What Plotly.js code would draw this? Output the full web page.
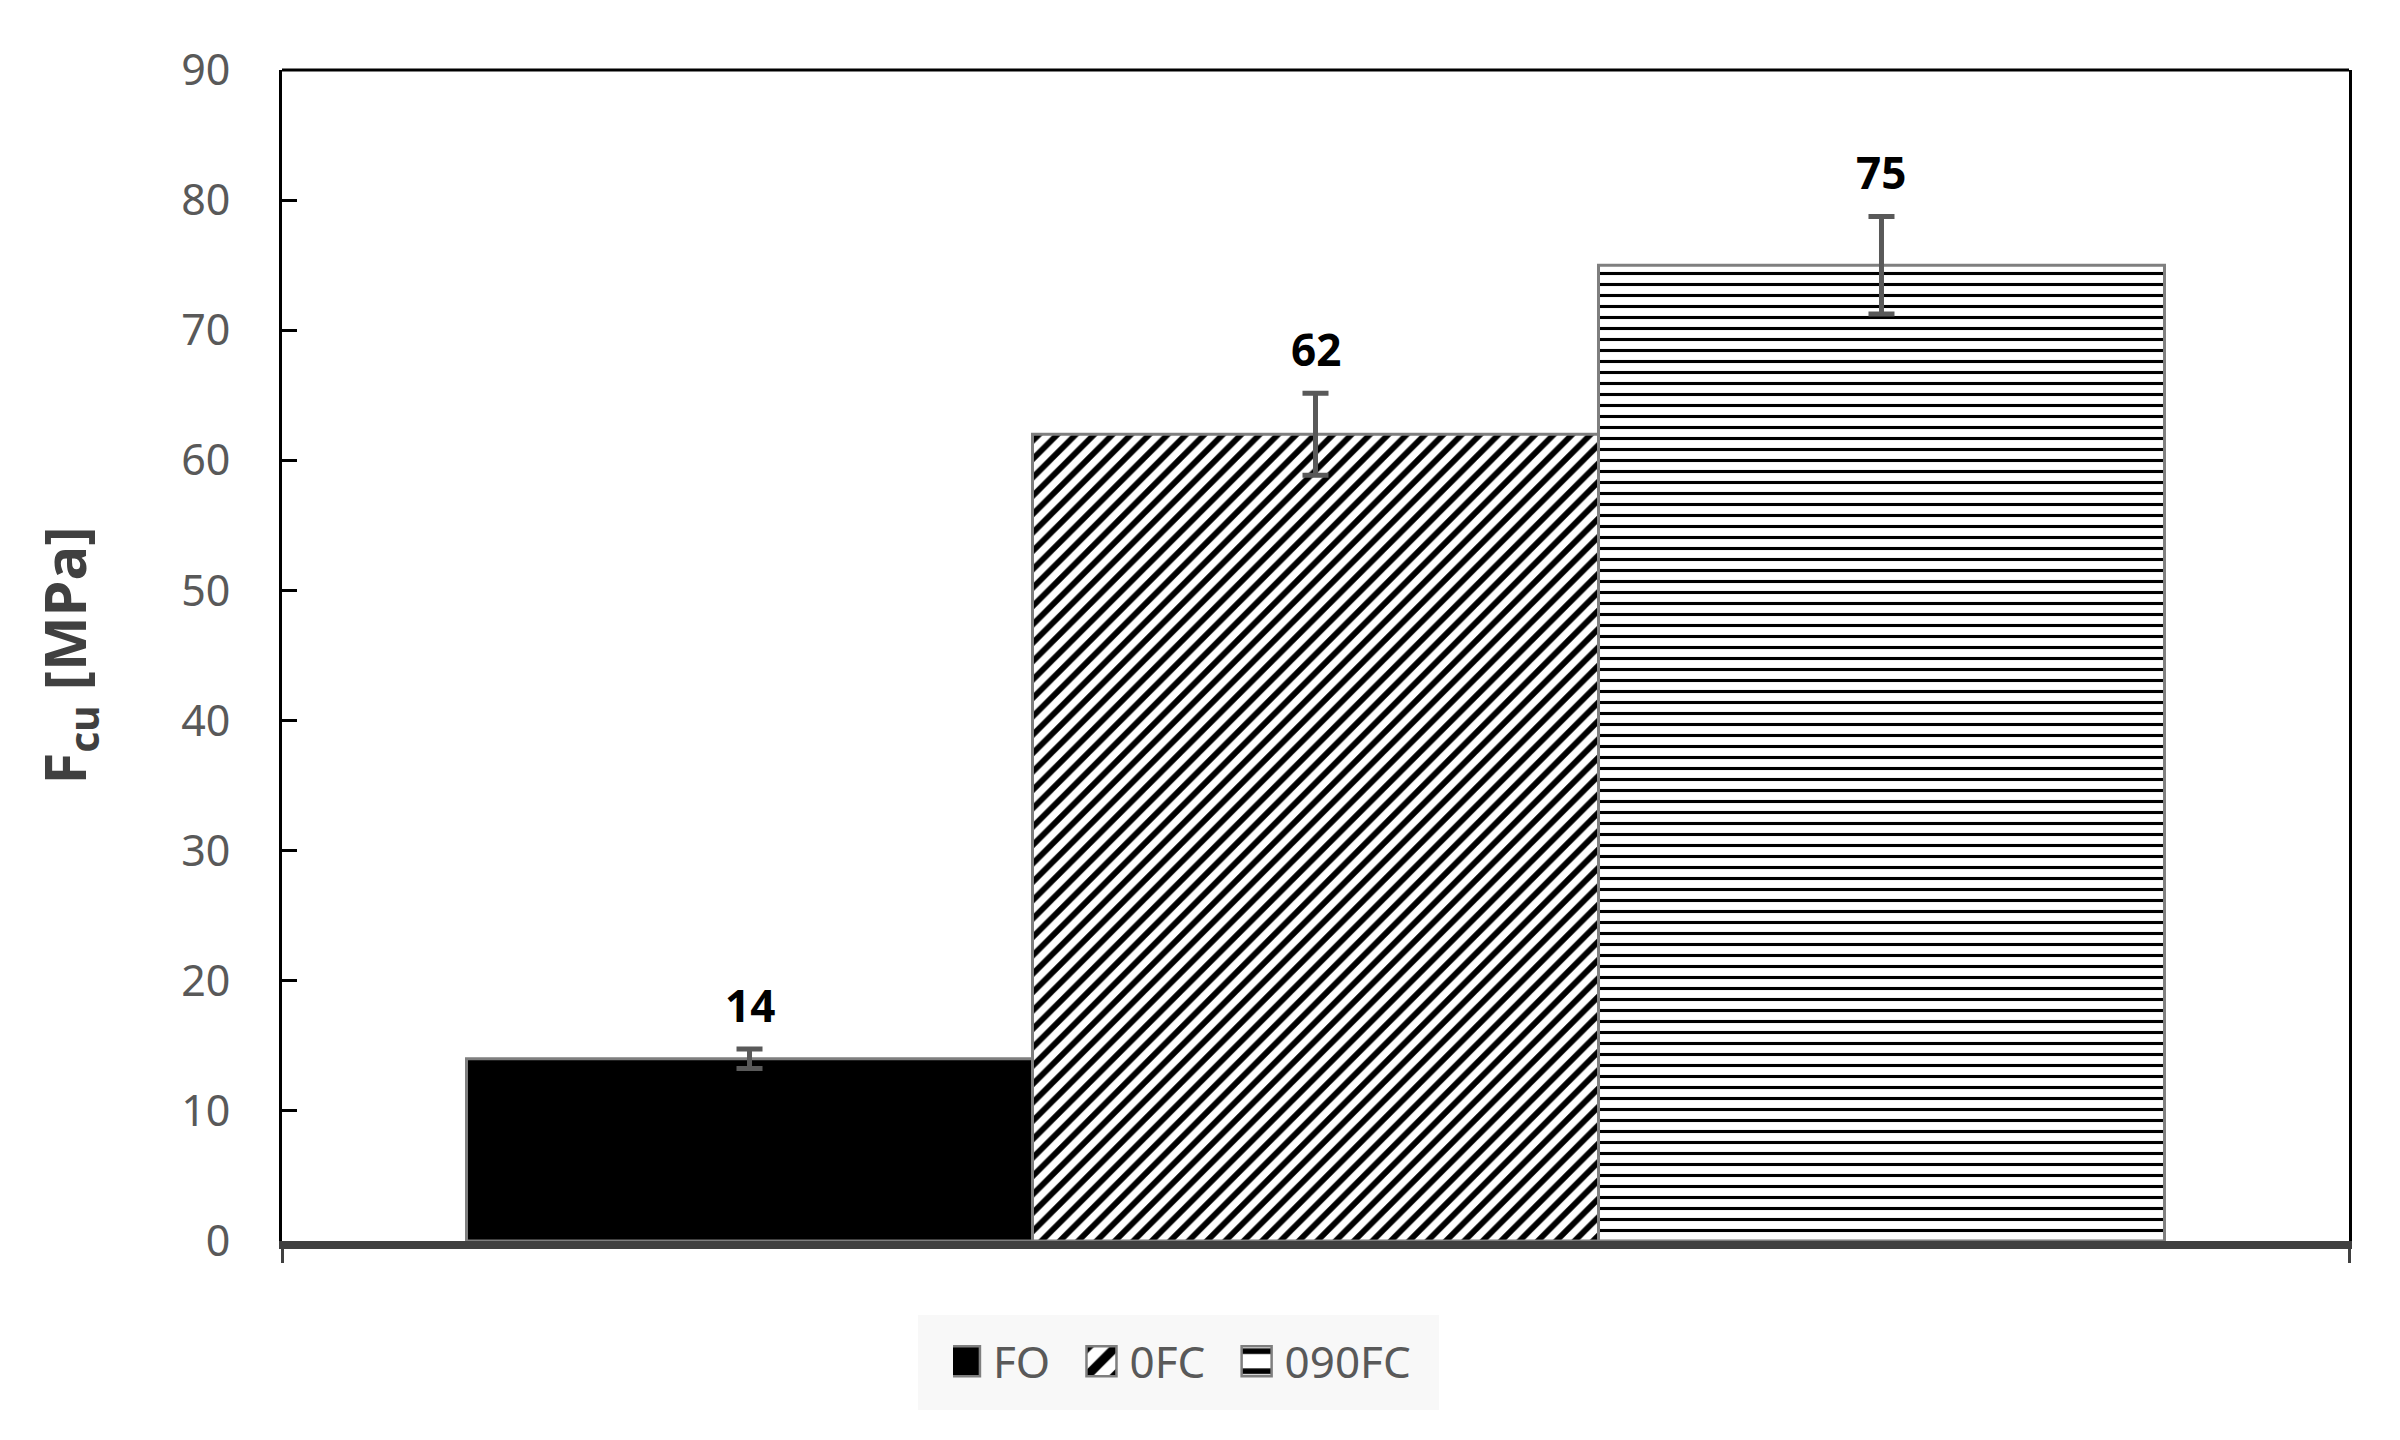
<!DOCTYPE html>
<html>
<head>
<meta charset="utf-8">
<script src="https://cdn.plot.ly/plotly-3.0.1.min.js"></script>
<style>
  html, body { margin: 0; padding: 0; background: #fff; }
  #myDiv { width: 2400px; height: 1440px; }
</style>
</head>
<body>
<div id="myDiv"></div>
<script>
graphDiv = 'myDiv'

// values
var categories = ['FO', '0FC', '090FC']
var values = [14, 62, 75]
var errors = [0.75, 3.15, 3.75]
var valueLabels = ['14', '62', '75']
var patternShapes = ['', '/', '-']
var fillColors = ['black', 'white', 'white']
var yTicks = [0, 10, 20, 30, 40, 50, 60, 70, 80, 90]

var xMin = -0.826
var xMax = 2.826

// a little trailing space so the legend entries spread like the reference
var legendPad = ['\u00a0\u00a0\u00a0', '\u00a0\u00a0\u00a0', '']

var data = []
for (let i = 0; i < categories.length; i++) {
  data.push({
    type: 'bar',
    name: categories[i] + legendPad[i],
    x: [i],
    y: [values[i]],
    width: [1],
    marker: {
      color: fillColors[i],
      line: { color: '#7f7f7f', width: 3 },
      pattern: {
        shape: patternShapes[i],
        fgcolor: 'black',
        bgcolor: 'white',
        size: patternShapes[i] == '-' ? 11 : 13,
        solidity: patternShapes[i] == '-' ? 0.28 : 0.45
      }
    },
    error_y: {
      type: 'data',
      array: [errors[i]],
      visible: true,
      color: '#595959',
      thickness: 5,
      width: 13
    },
    hoverinfo: 'skip'
  })
}

// value labels sit above the top of each error bar
var annotations = []
for (let i = 0; i < categories.length; i++) {
  annotations.push({
    x: i,
    y: values[i] + errors[i],
    xref: 'x',
    yref: 'y',
    text: '<b>' + valueLabels[i] + '</b>',
    showarrow: false,
    yanchor: 'middle',
    yshift: 44,
    font: { family: 'Noto Sans', size: 44, color: 'black' }
  })
}

var layout = {
  width: 2400,
  height: 1440,
  paper_bgcolor: 'white',
  plot_bgcolor: 'white',
  margin: { l: 282, r: 51, t: 70, b: 199 },
  barmode: 'overlay',
  font: { family: 'Noto Sans', color: '#595959' },
  xaxis: {
    range: [xMin, xMax],
    showgrid: false,
    zeroline: false,
    showline: true,
    linecolor: '#404040',
    linewidth: 8,
    showticklabels: false,
    ticks: 'outside',
    tickmode: 'array',
    tickvals: [xMin, xMax],
    ticklen: 14,
    tickwidth: 3,
    tickcolor: '#404040',
    fixedrange: true
  },
  yaxis: {
    range: [0, 90],
    tickmode: 'array',
    tickvals: yTicks,
    showgrid: false,
    zeroline: false,
    showline: true,
    mirror: true,
    linecolor: 'black',
    linewidth: 3,
    ticks: 'inside',
    ticklen: 15,
    tickwidth: 3,
    tickcolor: 'black',
    ticklabelstandoff: 40,
    tickfont: { family: 'Noto Sans', size: 43, color: '#595959' },
    title: {
      text: 'F<sub>cu</sub> [MPa]',
      standoff: 76,
      font: { family: 'Noto Sans', size: 58, color: '#404040', weight: 'bold' }
    },
    fixedrange: true
  },
  shapes: [
    // top border of the plot frame
    { type: 'line', xref: 'paper', yref: 'paper', x0: 0, x1: 1, y0: 1, y1: 1,
      line: { color: 'black', width: 3 } },
    // light box behind the legend
    { type: 'rect', xref: 'paper', yref: 'paper', layer: 'below',
      x0: 0.3077, x1: 0.5598, y0: -0.1443, y1: -0.0632,
      fillcolor: '#f8f8f8', line: { width: 0 } }
  ],
  annotations: annotations,
  showlegend: true,
  legend: {
    orientation: 'h',
    x: 0.3246,
    xanchor: 'left',
    y: -0.103,
    yanchor: 'middle',
    bgcolor: 'rgba(0,0,0,0)',
    borderwidth: 0,
    font: { family: 'Noto Sans', size: 44, color: '#595959' },
    itemwidth: 30,
    traceorder: 'normal'
  }
}

Plotly.newPlot(graphDiv, data, layout, { displayModeBar: false, staticPlot: true }).then(function (gd) {
  // legend swatches are drawn 12px wide; the reference ones are about 30px
  gd.querySelectorAll('.legend .legendpoints path').forEach(function (p) {
    let t = p.getAttribute('transform') || ''
    p.setAttribute('transform', t + ' translate(-8,0) scale(2.5)')
    p.style.strokeWidth = '1px'
  })
})
</script>
</body>
</html>
